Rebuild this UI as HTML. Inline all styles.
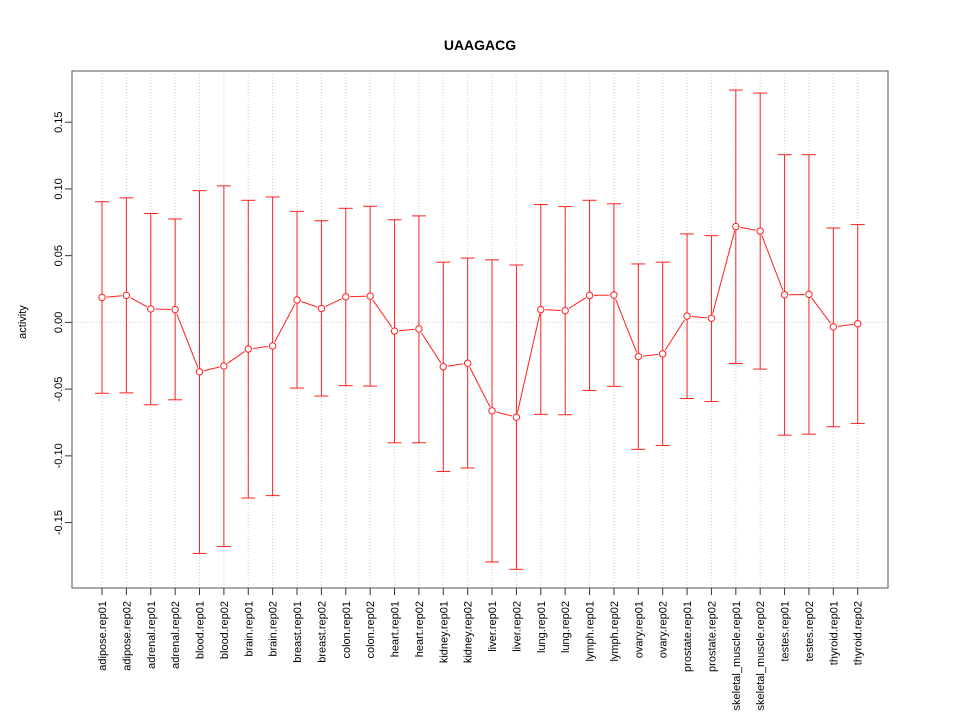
<!DOCTYPE html>
<html><head><meta charset="utf-8"><style>
body{margin:0;background:#fff}
svg{display:block;font-family:"Liberation Sans",sans-serif}
</style></head><body>
<svg id="chart" width="960" height="720">
<text x="480" y="50" text-anchor="middle" font-size="14" font-weight="bold">UAAGACG</text>
<text transform="translate(26,322) rotate(-90)" text-anchor="middle" font-size="11">activity</text>
<g id="grid"></g><g id="axes"></g><g id="marks"></g>
<rect x="72" y="71" width="816" height="517" fill="none" stroke="#555" stroke-width="1"/>
</svg>
<script>
const categories=["adipose.rep01","adipose.rep02","adrenal.rep01","adrenal.rep02","blood.rep01","blood.rep02","brain.rep01","brain.rep02","breast.rep01","breast.rep02","colon.rep01","colon.rep02","heart.rep01","heart.rep02","kidney.rep01","kidney.rep02","liver.rep01","liver.rep02","lung.rep01","lung.rep02","lymph.rep01","lymph.rep02","ovary.rep01","ovary.rep02","prostate.rep01","prostate.rep02","skeletal_muscle.rep01","skeletal_muscle.rep02","testes.rep01","testes.rep02","thyroid.rep01","thyroid.rep02"];
const means=[0.0187,0.0202,0.0101,0.0096,-0.0370,-0.0326,-0.0199,-0.0176,0.0168,0.0104,0.0192,0.0197,-0.0065,-0.0049,-0.0332,-0.0306,-0.0663,-0.0710,0.0096,0.0088,0.0202,0.0205,-0.0256,-0.0236,0.0047,0.0031,0.0718,0.0684,0.0207,0.0210,-0.0034,-0.0010];
const upper=[0.0904,0.0933,0.0816,0.0775,0.0987,0.1023,0.0915,0.0940,0.0832,0.0762,0.0855,0.0870,0.0769,0.0798,0.0451,0.0482,0.0469,0.0430,0.0883,0.0868,0.0915,0.0889,0.0438,0.0451,0.0663,0.0650,0.1741,0.1718,0.1257,0.1257,0.0707,0.0733];
const lower=[-0.0531,-0.0528,-0.0617,-0.0580,-0.1731,-0.1679,-0.1316,-0.1298,-0.0492,-0.0552,-0.0474,-0.0477,-0.0902,-0.0902,-0.1117,-0.1091,-0.1795,-0.1850,-0.0689,-0.0692,-0.0510,-0.0479,-0.0951,-0.0922,-0.0570,-0.0593,-0.0308,-0.0350,-0.0845,-0.0837,-0.0782,-0.0757];
const yTicks=[0.15,0.10,0.05,0.00,-0.05,-0.10,-0.15];
const yTickLabels=["0.15","0.10","0.05","0.00","-0.05","-0.10","-0.15"];
const NS="http://www.w3.org/2000/svg";
function X(i){return 102+i*(857.7-102)/(categories.length-1);}
function Y(v){return 322.4-v*1334.6;}
function mk(parent,tag,attrs){const e=document.createElementNS(NS,tag);for(const k in attrs)e.setAttribute(k,attrs[k]);document.getElementById(parent).appendChild(e);return e;}
categories.forEach((c,i)=>{
  const g=mk('grid','line',{x1:X(i),x2:X(i),y1:71,y2:588,stroke:'#ccc','stroke-dasharray':'1,2'});
  
  
  const t=mk('axes','line',{x1:X(i),x2:X(i),y1:588,y2:595,stroke:'#333'});
  
  
  const l=mk('axes','text',{transform:`translate(${X(i)+4},${601}) rotate(-90)`,'text-anchor':'end','font-size':'11'});
  l.textContent=c;
  
  
});
const z=mk('grid','line',{x1:72,x2:888,y1:Y(0),y2:Y(0),stroke:'#ccc','stroke-dasharray':'1,2'});


const ya=mk('axes','line',{x1:72,x2:72,y1:Y(yTicks[0]),y2:Y(yTicks[yTicks.length-1]),stroke:'#333'});


yTicks.forEach((v,i)=>{
  const t=mk('axes','line',{x1:65,x2:72,y1:Y(v),y2:Y(v),stroke:'#333'});
  
  
  const l=mk('axes','text',{transform:`translate(62,${Y(v)}) rotate(-90)`,'text-anchor':'middle','font-size':'11'});
  l.textContent=yTickLabels[i];
  
  
});
const red='#ff2020';
categories.forEach((c,i)=>{
  const x=X(i);
  const eb=mk('marks','line',{x1:x,x2:x,y1:Y(upper[i]),y2:Y(lower[i]),stroke:red,'stroke-width':1});
  
  
  [upper[i],lower[i]].forEach(v=>{
    const cap=mk('marks','line',{x1:x-7,x2:x+7,y1:Y(v),y2:Y(v),stroke:red});
    
    
  });
  if(i<categories.length-1){
    const x1=x,y1=Y(means[i]),x2=X(i+1),y2=Y(means[i+1]);
    const d=Math.hypot(x2-x1,y2-y1),r=4.5;
    if(d>2*r){
      const ux=(x2-x1)/d,uy=(y2-y1)/d;
      const s=mk('marks','line',{x1:x1+ux*r,y1:y1+uy*r,x2:x2-ux*r,y2:y2-uy*r,stroke:red});
      
      
    }
  }
  const p=mk('marks','circle',{cx:x,cy:Y(means[i]),r:3.2,fill:'#fff',stroke:red});
  
  
});
</script>
</body></html>
